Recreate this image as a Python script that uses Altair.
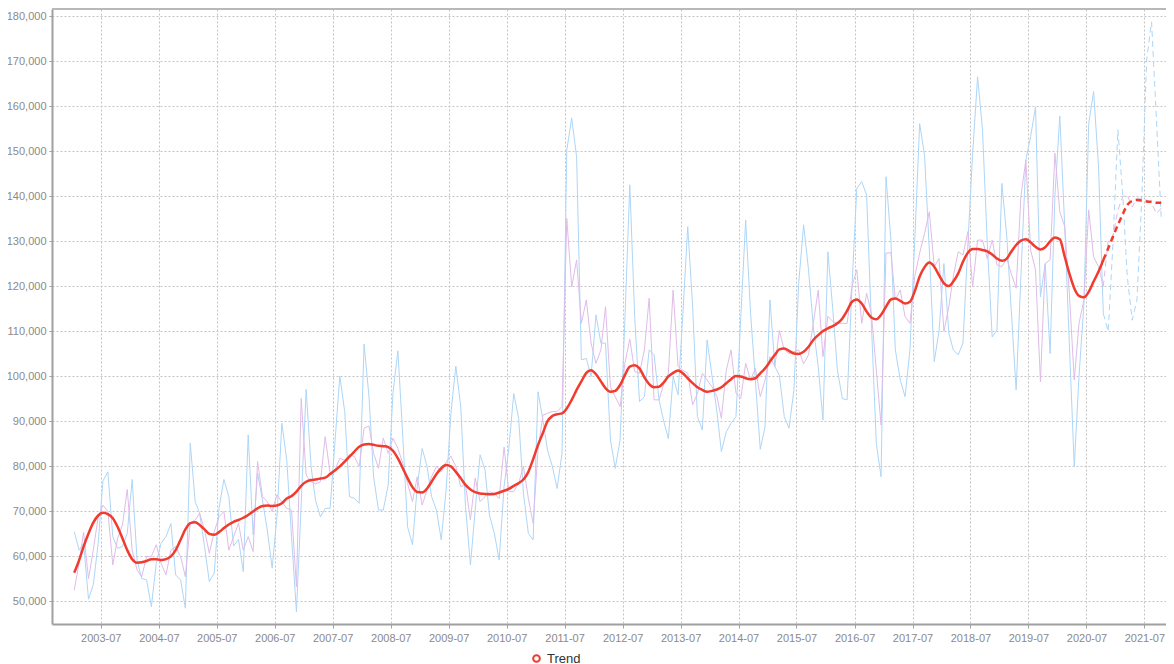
import altair as alt
import pandas as pd

# ---- data (values in thousands) ----
N = 226  # 2003-01 .. 2021-10 monthly
months = [f"{2003 + k // 12}-{k % 12 + 1:02d}-15T00:00:00" for k in range(N)]
LAST_ACTUAL = 213  # 2020-10, forecast afterwards

actual_k = [
    65.4, 61.3, 62.8, 50.4, 53.6, 62.8, 76.7, 78.7, 64.3, 61.7, 62.1, 65.0,
    77.0, 59.1, 55.0, 54.7, 48.75, 58.4, 62.8, 64.3, 67.2, 55.8, 54.7, 48.4,
    85.05, 72.1, 69.5, 62.1, 54.3, 56.2, 70.6, 77.0, 73.2, 62.2, 63.7, 56.5,
    86.9, 64.7, 78.4, 72.4, 65.8, 57.3, 68.7, 89.5, 81.3, 64.3, 47.6, 71.7,
    97.0, 79.9, 72.4, 68.7, 70.6, 70.6, 85.0, 100.0, 92.1, 73.2, 72.8, 71.7,
    107.1, 95.4, 77.6, 70.2, 70.2, 75.8, 96.2, 105.6, 86.5, 66.5, 62.5, 75.4,
    83.9, 79.9, 73.2, 70.2, 63.6, 74.7, 91.7, 102.2, 93.2, 71.0, 58.0, 70.2,
    82.5, 79.1, 69.1, 65.0, 59.1, 75.4, 84.0, 96.1, 90.6, 73.9, 65.0, 63.6,
    96.5, 90.2, 83.6, 79.9, 75.0, 82.8, 150.2, 157.3, 148.7, 103.6, 103.9, 99.9,
    113.6, 107.3, 107.3, 85.8, 79.5, 85.8, 112.4, 142.5, 113.2, 94.3, 95.4, 105.8,
    104.7, 94.7, 90.2, 86.1, 99.9, 95.8, 113.6, 133.2, 115.4, 91.0, 88.0, 108.0,
    100.0, 92.0, 83.2, 87.6, 89.5, 91.0, 113.0, 134.7, 113.9, 99.1, 83.7, 88.7,
    116.9, 102.1, 100.2, 91.0, 88.4, 96.9, 120.6, 133.6, 123.6, 111.0, 102.1, 90.2,
    127.6, 114.7, 101.3, 95.0, 94.7, 120.0, 141.7, 143.2, 140.2, 111.7, 85.0, 77.6,
    144.3, 130.2, 105.8, 99.1, 95.4, 105.8, 130.0, 156.1, 149.0, 128.0, 103.2, 109.9,
    125.0, 109.5, 105.8, 104.7, 107.3, 129.5, 149.5, 166.5, 154.7, 129.5, 108.7, 110.2,
    142.8, 131.0, 114.7, 96.9, 122.1, 148.0, 153.2, 159.8, 117.6, 125.0, 105.0, 139.9,
    157.8, 133.2, 107.3, 79.9, 99.9, 116.1, 156.1, 163.2, 146.5, 113.9, 109.9, 129.5,
    154.7, 139.9, 122.1, 112.4, 116.9, 139.9, 170.2, 178.7, 156.9, 135.0,
]

adjusted_k = [
    52.4, 58.4, 65.3, 55.0, 61.3, 68.7, 71.3, 69.9, 58.0, 63.9, 66.9, 74.8,
    61.3, 56.9, 55.4, 59.9, 59.9, 62.5, 58.4, 55.8, 61.3, 62.1, 59.9, 55.4,
    67.3, 68.0, 69.5, 65.8, 60.6, 65.4, 68.7, 69.9, 61.3, 64.3, 67.3, 61.3,
    64.3, 61.0, 81.0, 73.2, 72.1, 69.9, 73.6, 72.0, 70.6, 70.2, 53.2, 95.0,
    78.0, 76.5, 76.0, 76.5, 86.5, 78.4, 79.1, 81.7, 81.3, 82.5, 82.1, 79.9,
    88.4, 88.9, 82.8, 79.5, 86.2, 82.8, 86.2, 83.9, 80.6, 76.1, 72.1, 77.6,
    71.3, 74.7, 77.6, 79.9, 78.7, 80.9, 82.2, 79.9, 75.4, 75.8, 68.0, 77.3,
    72.1, 73.2, 74.3, 73.9, 72.8, 84.2, 74.3, 74.3, 76.2, 79.9, 72.8, 67.3,
    83.6, 91.3, 91.7, 92.1, 92.1, 93.2, 135.0, 119.8, 125.8, 111.7, 116.9, 107.3,
    102.8, 105.8, 115.4, 97.6, 95.4, 93.2, 102.8, 108.2, 101.0, 100.6, 105.8, 117.3,
    94.7, 94.7, 98.0, 100.6, 119.1, 102.1, 101.3, 100.6, 93.6, 96.1, 100.6, 99.1,
    97.6, 95.4, 90.6, 101.3, 105.8, 96.2, 95.0, 102.8, 99.1, 101.7, 95.4, 99.1,
    104.3, 102.1, 110.1, 105.8, 105.0, 105.4, 105.8, 102.7, 104.7, 111.7, 119.1, 104.3,
    113.3, 112.1, 111.7, 111.7, 111.7, 119.9, 123.6, 111.7, 118.4, 113.9, 101.3, 89.1,
    127.3, 127.4, 116.9, 119.1, 113.2, 111.7, 122.1, 127.3, 131.7, 136.5, 124.3, 126.1,
    109.9, 115.4, 122.1, 127.6, 126.9, 132.1, 119.9, 130.2, 130.2, 126.1, 130.2, 124.7,
    124.3, 126.1, 122.8, 119.5, 139.9, 148.0, 128.0, 123.6, 98.7, 125.0, 125.8, 149.5,
    136.5, 133.2, 118.4, 99.1, 111.7, 116.9, 136.9, 126.5, 124.3, 119.9, 130.2, 131.0,
    136.9, 139.9, 140.2, 137.6, 139.5, 139.5, 139.1, 138.4, 136.1, 137.3,
]

trend_k = [
    56.3, 59.1, 62.1, 65.0, 67.4, 69.0, 69.6, 69.3, 68.4, 66.5, 63.9, 61.3,
    59.3, 58.5, 58.6, 58.9, 59.3, 59.3, 59.1, 59.3, 59.9, 61.3, 63.6, 65.9,
    67.3, 67.5, 66.9, 65.9, 64.9, 64.7, 65.3, 66.2, 67.0, 67.6, 68.0, 68.5,
    69.1, 69.9, 70.6, 71.1, 71.2, 71.1, 71.2, 71.7, 72.8, 73.3, 74.3, 75.6,
    76.5, 76.9, 77.0, 77.2, 77.4, 78.2, 79.0, 79.9, 81.0, 82.1, 83.2, 84.3,
    84.8, 84.9, 84.7, 84.5, 84.4, 84.2, 83.4, 81.7, 79.5, 77.3, 75.3, 74.2,
    74.1, 75.0, 76.5, 78.2, 79.5, 80.2, 79.9, 78.7, 77.3, 75.8, 74.8, 74.2,
    73.9, 73.8, 73.7, 73.8, 74.1, 74.5, 74.9, 75.6, 76.2, 77.0, 78.7, 81.5,
    84.7, 87.4, 89.9, 91.1, 91.5, 91.7, 92.8, 94.7, 96.9, 98.8, 100.7, 101.3,
    100.4, 98.8, 97.3, 96.5, 96.7, 98.0, 100.2, 102.1, 102.4, 101.7, 99.7, 98.2,
    97.5, 97.6, 98.5, 99.9, 100.7, 101.2, 100.6, 99.5, 98.4, 97.5, 96.9, 96.5,
    96.7, 97.0, 97.5, 98.4, 99.3, 100.0, 99.9, 99.5, 99.3, 99.5, 100.6, 101.7,
    103.2, 104.7, 105.9, 106.1, 105.6, 105.0, 104.9, 105.4, 106.5, 108.0, 109.1, 110.0,
    110.6, 111.1, 111.7, 112.8, 114.5, 116.5, 117.0, 116.1, 114.3, 113.0, 112.6, 113.6,
    115.4, 117.0, 117.2, 116.7, 116.1, 116.5, 118.8, 122.1, 124.2, 125.2, 124.3, 122.4,
    120.6, 120.0, 121.0, 122.8, 125.4, 127.4, 128.2, 128.2, 128.0, 127.7, 127.0, 126.1,
    125.6, 126.1, 127.6, 129.1, 130.1, 130.4, 129.7, 128.7, 128.1, 128.6, 129.9, 130.8,
    130.4, 126.5, 122.8, 119.5, 117.8, 117.5, 118.7, 121.0, 123.2, 125.8, 128.4, 131.0,
    133.6, 136.0, 138.0, 138.9, 139.1, 139.0, 138.8, 138.7, 138.5, 138.5,
]

tick_years = list(range(2003, 2022))
y_ticks = list(range(50000, 180001, 10000))

RED = "#f03b2e"
BLUE = "#add6f7"
PINK = "#e0bce8"
GREY_TXT = "#8a8a8a"
AXIS_COL = "#a0a0a0"
GRID_COL = "#c4c4c4"

W, H = 1114, 615

rows = []
for i in range(N):
    for name, arr in (("actual", actual_k), ("adjusted", adjusted_k), ("Trend", trend_k)):
        rows.append({"date": months[i], "idx": i, "series": name, "value": arr[i] * 1000})
df = pd.DataFrame(rows)

x_scale = alt.Scale(
    domain=[alt.DateTime(year=2002, month=8, date=28), alt.DateTime(year=2021, month=11, date=14)]
)
y_scale = alt.Scale(domain=[44889, 181556], nice=False, zero=False)

x_axis = alt.Axis(
    values=[alt.DateTime(year=y, month=7, date=1) for y in tick_years],
    format="%Y-%m", title="", labelColor=GREY_TXT, labelFontSize=11,
    labelFont="Liberation Sans", tickSize=4, tickColor=AXIS_COL,
    domainColor=AXIS_COL, domainWidth=2, grid=True, gridColor=GRID_COL,
    gridDash=[2, 2], gridWidth=1, labelPadding=4, labelOverlap=False, labelFlush=False,
)
y_axis = alt.Axis(
    values=y_ticks, format=",.0f", title="", labelColor=GREY_TXT, labelFontSize=11,
    labelFont="Liberation Sans", tickSize=3, tickColor=AXIS_COL,
    domainColor=AXIS_COL, domainWidth=2, grid=True, gridColor=GRID_COL,
    gridDash=[2, 2], gridWidth=1, labelPadding=3,
)

X = alt.X("date:T", scale=x_scale, axis=x_axis)
Y = alt.Y("value:Q", scale=y_scale, axis=y_axis)


def part(name, hist):
    cond = f"datum.series == '{name}' && " + (
        f"datum.idx <= {LAST_ACTUAL}" if hist else f"datum.idx >= {LAST_ACTUAL}")
    return alt.Chart(df).transform_filter(cond)


blue_s = part("actual", True).mark_line(color=BLUE, strokeWidth=1).encode(x=X, y=Y)
blue_d = part("actual", False).mark_line(color=BLUE, strokeWidth=1, strokeDash=[6, 4]).encode(x=X, y=Y)
pink_s = part("adjusted", True).mark_line(color=PINK, strokeWidth=1).encode(x=X, y=Y)
pink_d = part("adjusted", False).mark_line(color=PINK, strokeWidth=1, strokeDash=[6, 4]).encode(x=X, y=Y)

legend = alt.Legend(
    title=None, orient="none", legendX=478, legendY=643, symbolType="circle",
    symbolSize=45, symbolStrokeWidth=2, symbolFillColor="white",
    labelFontSize=13, labelColor="#333333", labelFont="Liberation Sans",
)
color = alt.Color("series:N", scale=alt.Scale(domain=["Trend"], range=[RED]), legend=legend)
red_s = part("Trend", True).mark_line(strokeWidth=2.5, interpolate="monotone").encode(x=X, y=Y, color=color)
red_d = part("Trend", False).mark_line(strokeWidth=2.5, interpolate="monotone", strokeDash=[6, 4]).encode(x=X, y=Y, color=color)

top_border = alt.Chart(pd.DataFrame({"a": [0]})).mark_rule(color="#b8b8b8", strokeWidth=2).encode(
    x=alt.value(0), x2=alt.value(W), y=alt.value(0)
)

chart = (
    alt.layer(blue_s, blue_d, pink_s, pink_d, red_s, red_d, top_border)
    .properties(
        width=W, height=H,
        autosize=alt.AutoSizeParams(type="none"),
        padding={"left": 44, "top": 1, "right": 0, "bottom": 40},
    )
    .configure_view(strokeWidth=0)
)

chart.save("out.html", embed_options={"renderer": "svg", "actions": False})
